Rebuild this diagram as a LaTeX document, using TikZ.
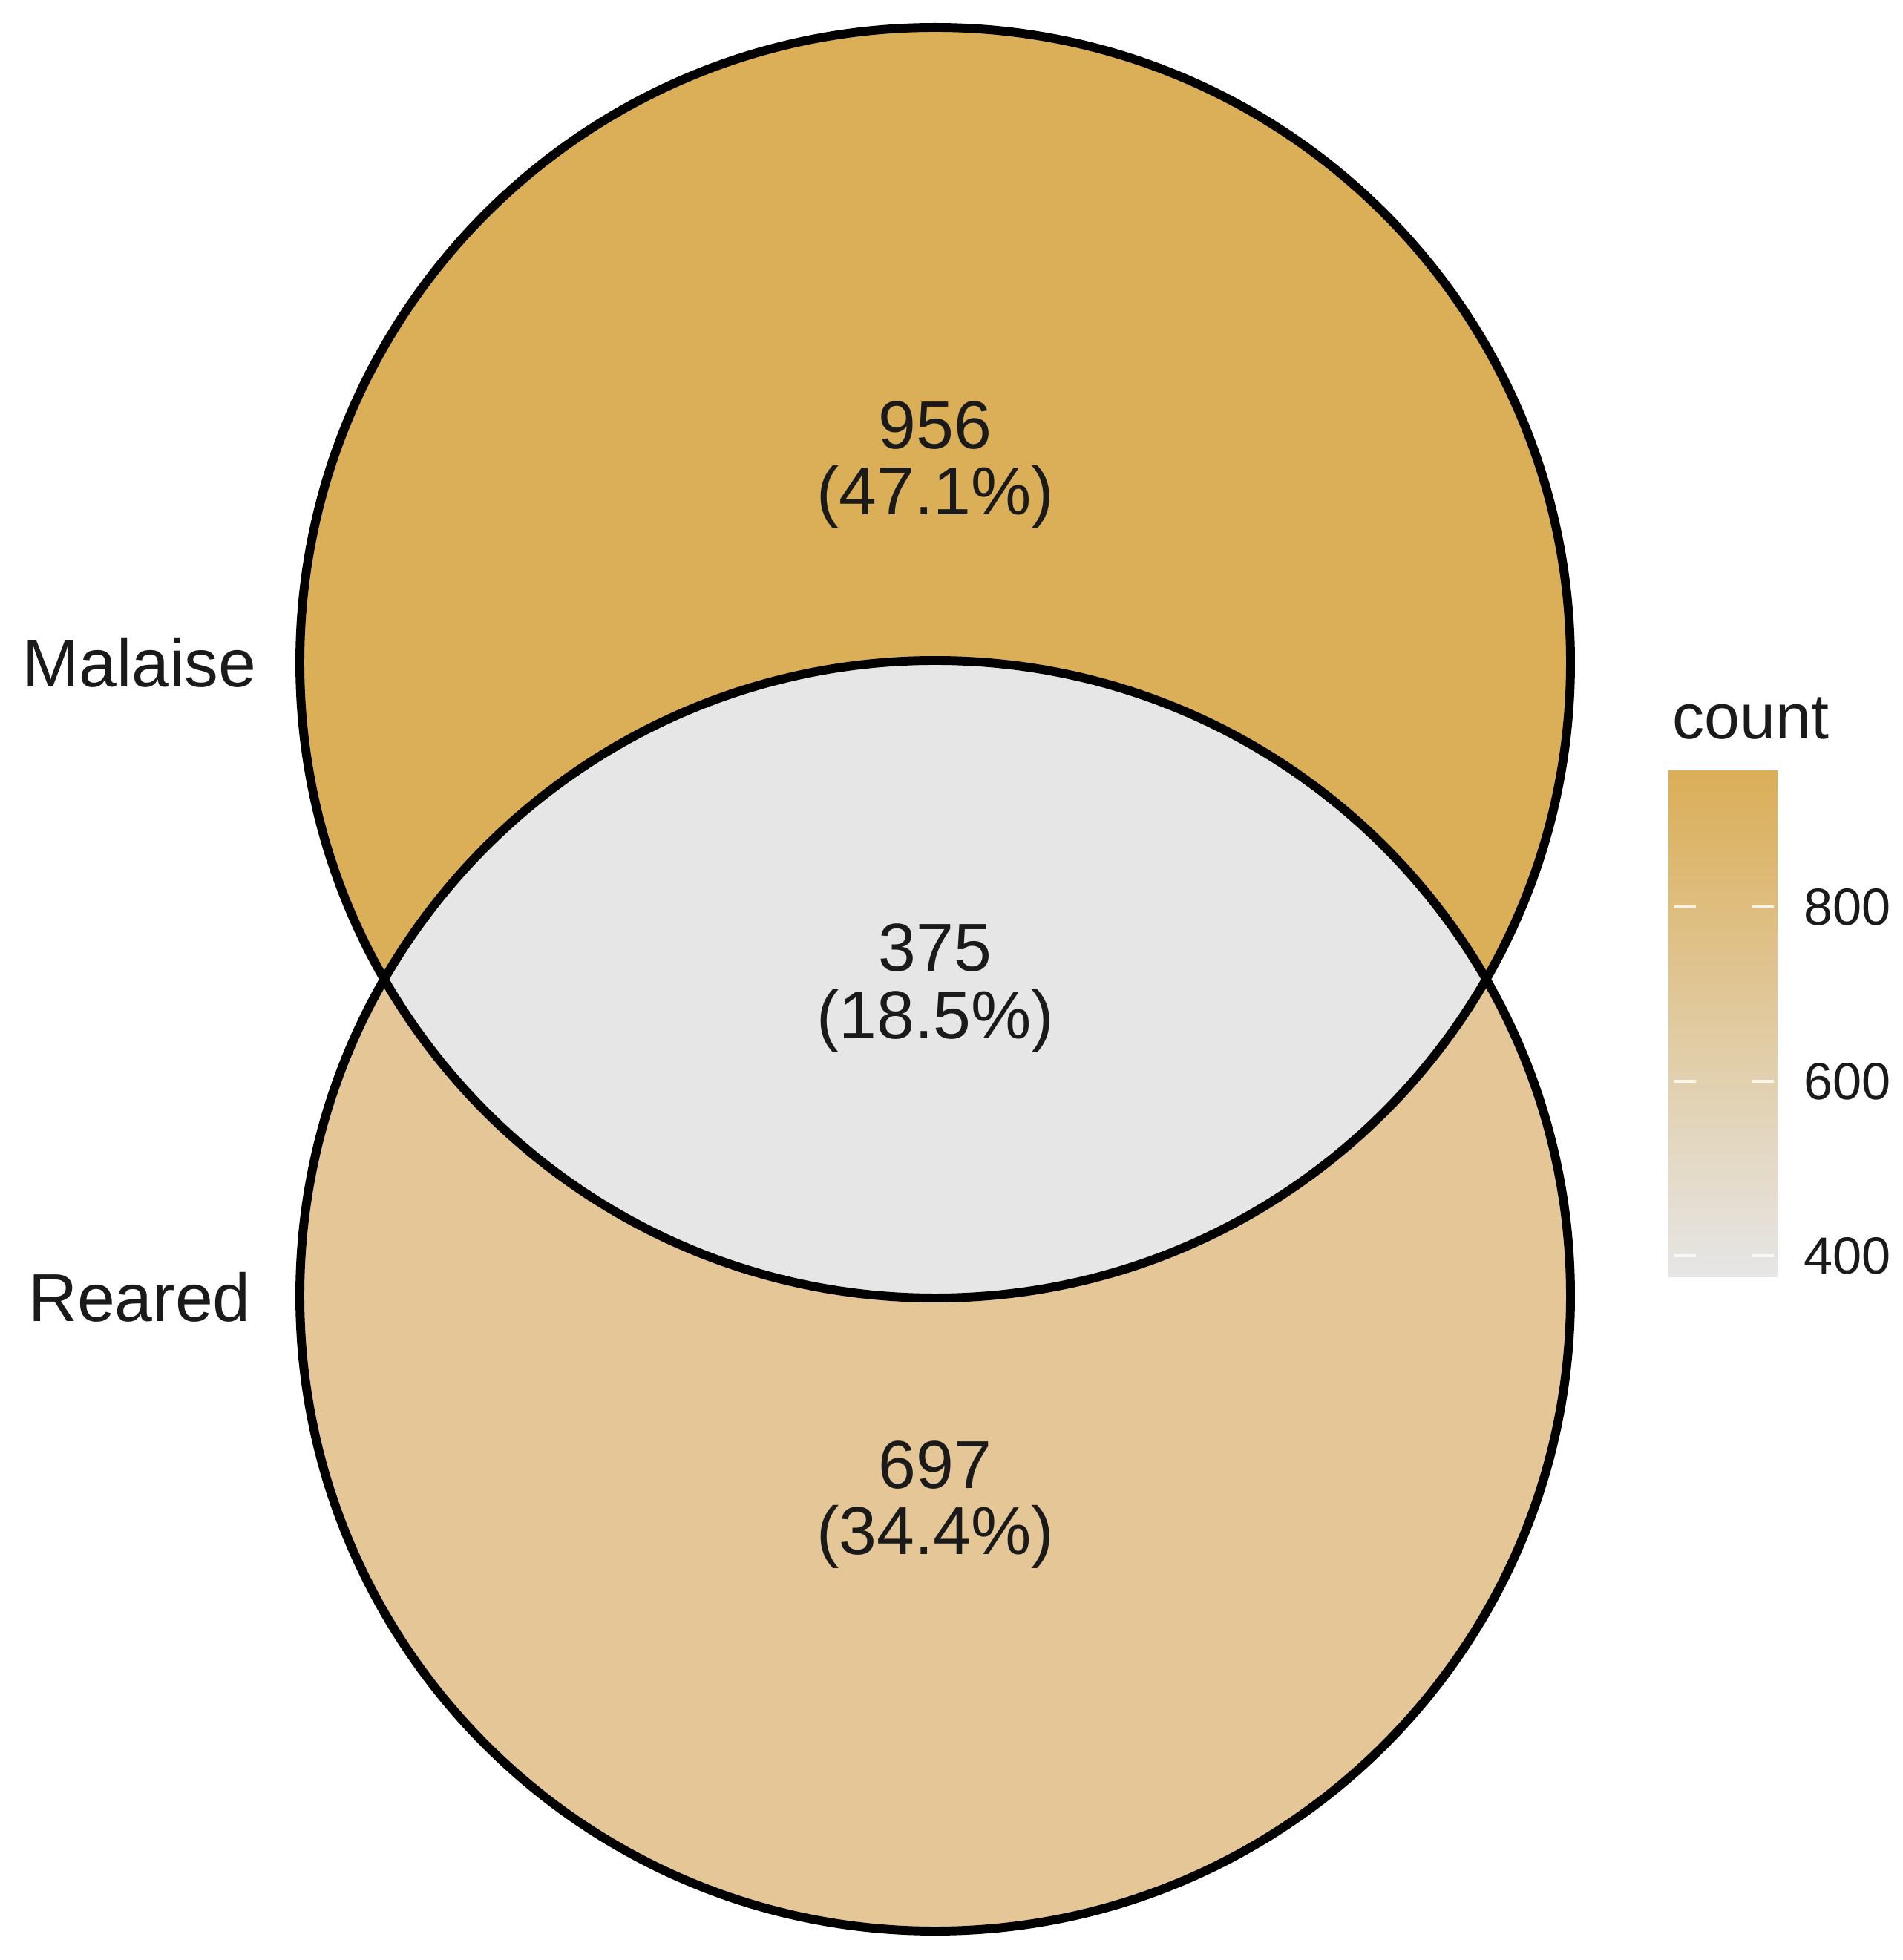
\documentclass[tikz,border=0pt]{standalone}
\usepackage{fontspec}
\setmainfont{Liberation Sans}
\definecolor{topfill}{HTML}{DBAE58}
\definecolor{botfill}{HTML}{E4C697}
\definecolor{midfill}{HTML}{E6E6E6}
\definecolor{txt}{HTML}{1A1A1A}
\tikzset{
  setline/.style={draw=black, line width=3.4pt},
  numlbl/.style={text=txt, font=\fontsize{26}{30}\selectfont, inner sep=0pt},
  setlbl/.style={text=txt, font=\fontsize{26}{30}\selectfont, inner sep=0pt},
  legtitle/.style={text=txt, font=\fontsize{24.5}{28}\selectfont, inner sep=0pt, anchor=west},
  ticklbl/.style={text=txt, font=\fontsize{20}{24}\selectfont, inner sep=0pt, anchor=west},
  tickmark/.style={draw=white, opacity=0.8, line width=1.2pt}
}
\begin{document}
\begin{tikzpicture}
\useasboundingbox (0,0) rectangle (25.63,26.41);
\coordinate (ctop) at (12.60,17.48);
\coordinate (cbot) at (12.60,8.95);
% fills
\fill[topfill] (ctop) circle[radius=8.56];
\fill[botfill] (cbot) circle[radius=8.56];
\begin{scope}
  \clip (ctop) circle[radius=8.56];
  \fill[midfill] (cbot) circle[radius=8.56];
\end{scope}
% outlines
\draw[setline] (ctop) circle[radius=8.56];
\draw[setline] (cbot) circle[radius=8.56];
% region labels
\node[numlbl] (n956) at (12.60,20.68) {956};
\node[numlbl] (p956) at (12.60,19.71) {(47.1\%)};
\node[numlbl] (n375) at (12.60,13.64) {375};
\node[numlbl] (p375) at (12.60,12.65) {(18.5\%)};
\node[numlbl] (n697) at (12.60,6.67) {697};
\node[numlbl] (p697) at (12.60,5.70) {(34.4\%)};
% set labels
\node[setlbl] (malaise) at (1.88,17.48) {Malaise};
\node[setlbl] (reared) at (1.88,8.93) {Reared};
% legend
\node[legtitle] (count) at (22.53,16.73) {count};
\shade[top color=topfill, bottom color=midfill] (22.48,9.20) rectangle (23.95,16.02);
\foreach \yy/\lab in {14.19/800, 11.84/600, 9.49/400}{
  \draw[tickmark] (22.56,\yy) -- (22.85,\yy);
  \draw[tickmark] (23.60,\yy) -- (23.90,\yy);
  \node[ticklbl] (t\lab) at (24.30,\yy) {\lab};
}
\end{tikzpicture}
\end{document}
